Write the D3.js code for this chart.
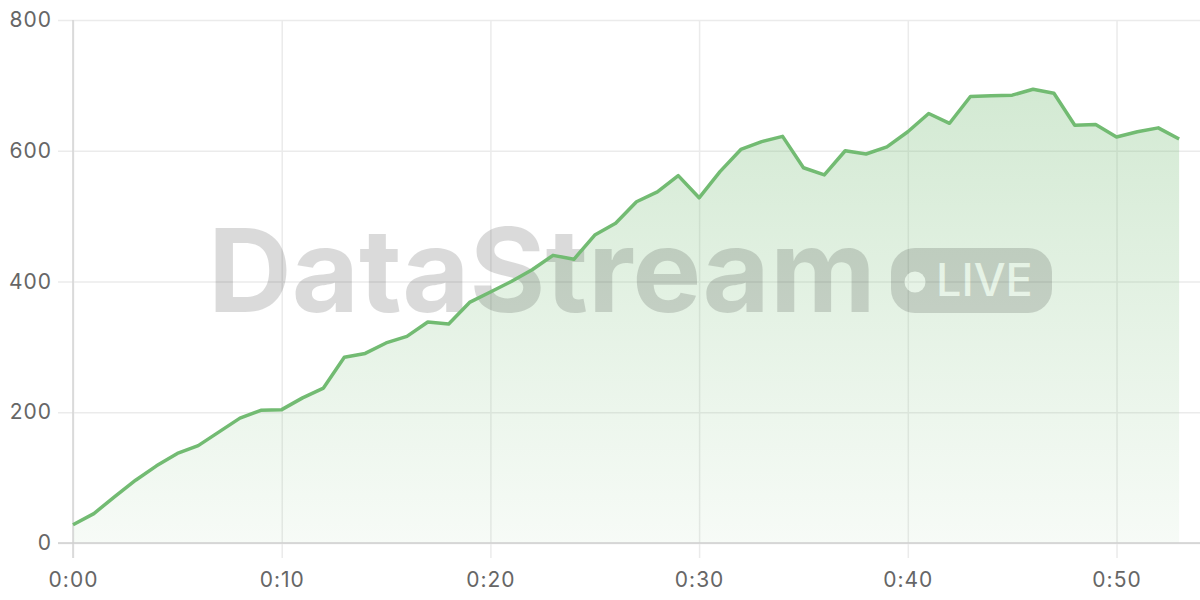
<!DOCTYPE html>
<html>
<head>
<meta charset="utf-8">
<script src="https://cdn.jsdelivr.net/npm/d3@7"></script>
<style>
html,body{margin:0;padding:0;background:#fff;}
svg{display:block;}
</style>
</head>
<body>
<svg id="chart" width="1200" height="600"></svg>
<script>
const minutes = d3.range(0, 54);
const values = [28,45,71,96,118,137,149,170,191,203,204,222,237,284,290,306,316,338,335,368,384,400,418,440,434,471,489,522,537,562,528,568,602,614,622,574,563,600,595,606,629,657,642,683,684,685,694,688,639,640,621,629,635,618];
const yTicks = [0,200,400,600,800];
const xTicks = [0,10,20,30,40,50];
const xTickLabels = ["0:00","0:10","0:20","0:30","0:40","0:50"];
const watermarkText = "DataStream";
const badgeText = "LIVE";

const data = minutes.map((m,i)=>({m, v: values[i]}));
const svg = d3.select("#chart");
const pL = 73, pR = 1200, pT = 20, pB = 543;
const x = d3.scaleLinear().domain([0,54]).range([pL,pR]);
const y = d3.scaleLinear().domain([0,800]).range([pB,pT]);
const font = "Inter, 'Noto Sans', sans-serif";

// gradient
const defs = svg.append("defs");
const grad = defs.append("linearGradient").attr("id","areaGrad")
  .attr("gradientUnits","userSpaceOnUse").attr("x1",0).attr("y1",y(700)).attr("x2",0).attr("y2",y(0));
grad.append("stop").attr("offset","0%").attr("stop-color","#74bb74").attr("stop-opacity",0.32);
grad.append("stop").attr("offset","100%").attr("stop-color","#74bb74").attr("stop-opacity",0.06);

// horizontal grid (y axis)
const yAxis = d3.axisLeft(y).tickValues(yTicks).tickSize(-(pR-pL)).tickPadding(8).tickSizeOuter(0);
const gy = svg.append("g").attr("transform",`translate(${pL},0)`).call(yAxis);
gy.select(".domain").remove();
gy.selectAll(".tick line").attr("stroke","#ebebeb").attr("stroke-width",1.5).attr("x1",-15);
gy.selectAll(".tick text").attr("x",-21).attr("fill","#666").style("font-family",font).style("font-size","21px").style("letter-spacing","1px");

// vertical grid (x axis)
const xAxis = d3.axisBottom(x).tickValues(xTicks).tickFormat((d,i)=>xTickLabels[i]).tickSize(0).tickSizeOuter(0);
const gx = svg.append("g").attr("transform",`translate(0,${pB})`).call(xAxis);
gx.select(".domain").remove();
gx.selectAll(".tick line").attr("stroke","#ebebeb").attr("stroke-width",1.5).attr("y1",15).attr("y2",pT-pB);
gx.selectAll(".tick text").attr("y",29).attr("fill","#666").style("font-family",font).style("font-size","21px").style("letter-spacing","1px");

// area
const area = d3.area().x(d=>x(d.m)).y0(y(0)).y1(d=>y(d.v));
svg.append("path").datum(data).attr("d",area).attr("fill","url(#areaGrad)");

// axis lines
svg.append("line").attr("x1",pL).attr("x2",pL).attr("y1",pT).attr("y2",pB+15).attr("stroke","#d4d4d4").attr("stroke-width",1.5);
svg.append("line").attr("x1",pL-15).attr("x2",pR).attr("y1",pB).attr("y2",pB).attr("stroke","#cfcfcf").attr("stroke-width",1.5);

// watermark
const wm = svg.append("g").attr("opacity",0.14);
wm.append("text").attr("x",208).attr("y",312).text(watermarkText)
  .style("font-family",font).style("font-weight",700).style("font-size","116px").style("letter-spacing","0px").attr("fill","#000");
wm.append("rect").attr("x",891).attr("y",248).attr("width",161).attr("height",65).attr("rx",24).attr("fill","#000");
wm.append("circle").attr("cx",915).attr("cy",282).attr("r",10.5).attr("fill","#fff");
wm.append("text").attr("x",936).attr("y",296).text(badgeText)
  .style("font-family",font).style("font-weight",500).style("font-size","45px").attr("fill","#fff");

// line
const line = d3.line().x(d=>x(d.m)).y(d=>y(d.v));
svg.append("path").datum(data).attr("d",line).attr("fill","none").attr("stroke","#72bb72").attr("stroke-width",3.5).attr("stroke-linejoin","round");
</script>
</body>
</html>
